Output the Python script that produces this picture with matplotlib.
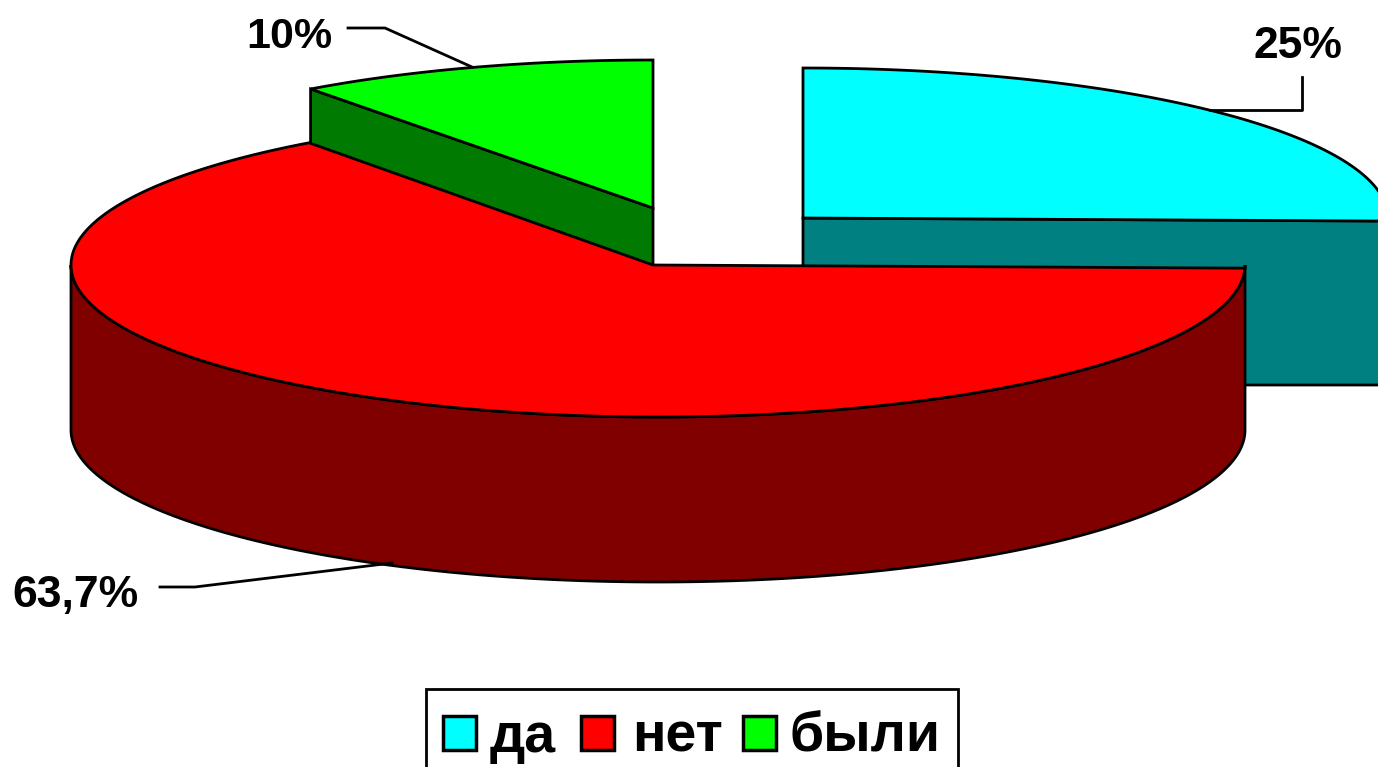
import numpy as np
from matplotlib import pyplot as plt
from matplotlib.patches import Polygon, Rectangle

labels = ["да", "нет", "были"]
values = [25, 63.7, 10]
value_text = ["25%", "63,7%", "10%"]

top_colors = ["#00FFFF", "#FF0000", "#00FF00"]
side_colors = ["#008080", "#800000", "#007A00"]

plt.rcParams['font.family'] = ['Liberation Sans', 'DejaVu Sans']

fig = plt.figure(figsize=(13.78, 7.67), dpi=100)
ax = fig.add_axes([0, 0, 1, 1])
ax.set_xlim(0, 1378)
ax.set_ylim(767, 0)
ax.axis("off")

fractions = np.array(values) / sum(values)
starts = np.concatenate(([0], np.cumsum(fractions)[:-1])) * 360
ends = np.cumsum(fractions) * 360


def arc(cx, cy, rx, ry, a0, a1):
    # angles are clockwise from 12 o'clock, y axis points down
    t = np.radians(np.linspace(a0, a1, 200))
    return np.column_stack((cx + rx * np.sin(t), cy - ry * np.cos(t)))


depth = 165
lw = 2

# da: exploded to the right, runs off the picture
cx, cy, rx, ry = 803, 218, 585, 150
ax.add_patch(Polygon([(cx, cy), (cx + rx, cy + 3), (cx + rx, cy + depth + 2), (cx, cy + depth + 2)],
                     fc=side_colors[0], ec="black", lw=lw, zorder=1))
pts = arc(cx, cy, rx, ry, starts[0], ends[0])
ax.add_patch(Polygon(np.vstack(([(cx, cy)], pts)), fc=top_colors[0], ec="black", lw=lw, zorder=2))

# byli: exploded up and left
cx, cy, rx, ry = 653, 208, 576, 148
pts = arc(cx, cy, rx, ry, starts[2], ends[2])
wall = np.array([(cx, cy), pts[0], pts[0] + (0, depth), (cx, cy + depth)])
ax.add_patch(Polygon(wall, fc=side_colors[2], ec="black", lw=lw, zorder=3))
ax.add_patch(Polygon(np.vstack(([(cx, cy)], pts)), fc=top_colors[2], ec="black", lw=lw, zorder=4))

# net: the big slice in front
cx, cy, rx, ry = 658, 265, 587, 152
apex = (653, 265)
pts = arc(cx, cy, rx, ry, starts[1], ends[1])
front = arc(cx, cy, rx, ry, 90, 270)
ax.add_patch(Polygon(np.vstack((front, (front + (0, depth))[::-1])),
                     fc=side_colors[1], ec="black", lw=lw, zorder=5))
ax.add_patch(Polygon(np.vstack(([apex], pts)), fc=top_colors[1], ec="black", lw=lw, zorder=6))

# labels and leader lines
ax.plot([1302, 1302, 1210], [77, 110, 110], color="black", lw=lw, zorder=7)
ax.plot([160, 195, 392], [587, 587, 563], color="black", lw=lw, zorder=7)
ax.plot([348, 385, 472], [28, 28, 67], color="black", lw=lw, zorder=7)
ax.text(1298, 46, value_text[0], fontsize=32, fontweight="bold", ha="center", va="center")
ax.text(75, 595, value_text[1], fontsize=32, fontweight="bold", ha="center", va="center")
ax.text(289, 37, value_text[2], fontsize=31, fontweight="bold", ha="center", va="center")

# legend
ax.add_patch(Rectangle((426, 689), 532, 90, fc="white", ec="black", lw=2, zorder=8))
swatch_x = [443, 581, 743]
text_x = [490, 632, 790]
for i in range(3):
    ax.add_patch(Rectangle((swatch_x[i], 716), 33, 34, fc=top_colors[i], ec="black", lw=2.5, zorder=9))
    ax.text(text_x[i], 752, labels[i], fontsize=40, fontweight="bold", ha="left", va="baseline", zorder=9)

fig.savefig("out.png", dpi=100)
